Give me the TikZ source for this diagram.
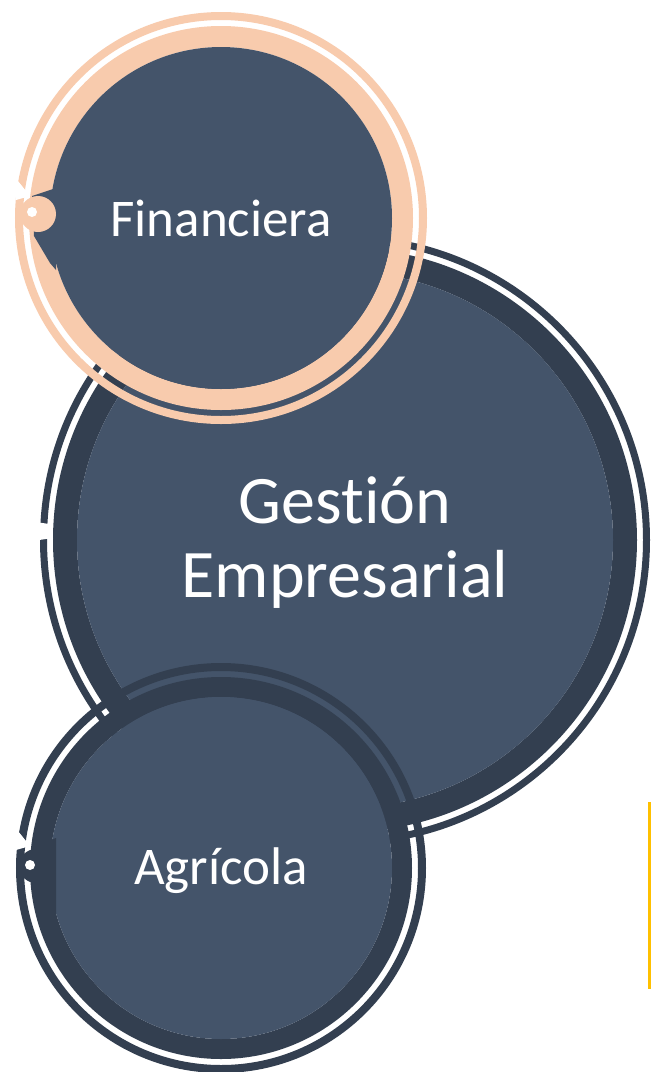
\documentclass[tikz,border=0pt]{standalone}
\usepackage{fontspec}
\setmainfont{Carlito}[Ligatures=NoCommon]
\usetikzlibrary{calc}
\definecolor{diskc}{HTML}{44546A}
\definecolor{ringd}{HTML}{333F50}
\definecolor{peach}{HTML}{F8CBAD}
\definecolor{gold}{HTML}{FFC000}
\tikzset{
  disk/.style={circle, fill=diskc, draw=none, inner sep=0pt},
  label text/.style={text=white, inner sep=0pt, align=center},
  thickring/.style={draw, line width=#1},
  thinring/.style={draw, line width=#1},
  bracketline/.style={draw=gold, line width=3pt}
}
\begin{document}
\begin{tikzpicture}[x=1pt,y=-1pt]
\useasboundingbox (0,0) rectangle (651,1072);
\clip (0,0) rectangle (651,1072);
\fill[white] (0,0) rectangle (651,1072);

% ---------- Gestion Empresarial ----------
\coordinate (gc) at (345,540);
\draw[thinring=7pt, ringd] (gc) circle[radius=301.5pt];
\draw[thickring=24pt, ringd] (gc) circle[radius=280pt];
\node[disk, minimum size=536pt] (ges) at (gc) {};
\node[label text, font=\fontsize{68}{74}\selectfont, yshift=-3pt] (gestext) at (ges.center) {Gesti\'on\\Empresarial};
\fill[white] ($(gc)+(-309,-18)$) -- ($(gc)+(-296,-16)$) -- ($(gc)+(-292,-2)$) -- ($(gc)+(-306,0)$) -- cycle;

% ---------- Financiera ----------
\coordinate (fc) at (221,218);
\draw[thinring=8pt, peach] (fc) circle[radius=202pt];
\draw[thickring=21pt, peach] (fc) circle[radius=181.5pt];
\node[disk, minimum size=342pt] (fin) at (fc) {};
\node[label text, font=\fontsize{53}{60}\selectfont] (fintext) at (fin.center) {Financiera};
\fill[diskc] ($(fc)+(-189,-22)$) -- ($(fc)+(-165,-30)$) -- ($(fc)+(-165,52)$) -- ($(fc)+(-171,45)$) -- ($(fc)+(-187,18)$) -- cycle;
\fill[peach] ($(fc)+(-183,-4)$) circle[radius=18pt];
\fill[white] ($(fc)+(-189,-6)$) circle[radius=5pt];
\fill[white] ($(fc)+(-207,-42)$) -- ($(fc)+(-191,-22)$) -- ($(fc)+(-205,-18)$) -- cycle;

% ---------- Agricola ----------
\coordinate (ac) at (221,868);
\draw[thinring=8pt, ringd] (ac) circle[radius=201pt];
\draw[thickring=20pt, ringd] (ac) circle[radius=181pt];
\node[disk, minimum size=342pt] (agr) at (ac) {};
\node[label text, font=\fontsize{53}{60}\selectfont, yshift=-3pt] (agrtext) at (agr.center) {Agr\'icola};
\fill[ringd] ($(ac)+(-189,-22)$) -- ($(ac)+(-165,-30)$) -- ($(ac)+(-165,52)$) -- ($(ac)+(-171,45)$) -- ($(ac)+(-187,18)$) -- cycle;
\fill[ringd] ($(ac)+(-185,-2)$) circle[radius=17pt];
\fill[white] ($(ac)+(-191,-3)$) circle[radius=5pt];
\fill[white] ($(ac)+(-207,-42)$) -- ($(ac)+(-191,-22)$) -- ($(ac)+(-205,-18)$) -- cycle;

% ---------- yellow bracket ----------
\coordinate (yb1) at (649,803);
\coordinate (yb2) at (700,987);
\draw[bracketline] (yb1) rectangle (yb2);
\end{tikzpicture}
\end{document}
